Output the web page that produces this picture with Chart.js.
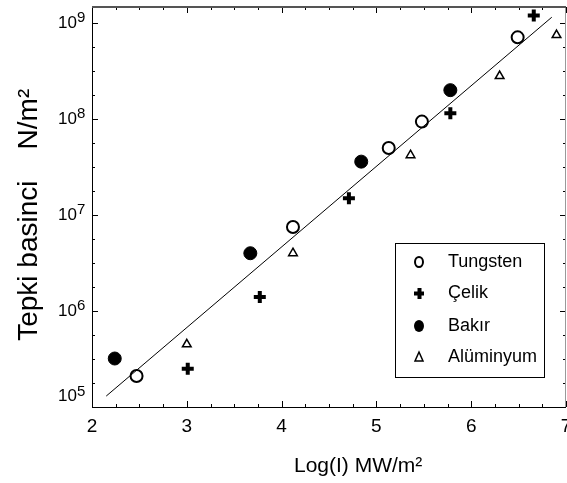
<!DOCTYPE html>
<html lang="tr">
<head>
<meta charset="UTF-8">
<title>Tepki basinci</title>
<script src="https://cdn.jsdelivr.net/npm/chart.js"></script>
<style>
  body { margin: 0; background: #fff; }
</style>
</head>
<body>
<canvas id="chart" width="567" height="483"></canvas>
<script>
// values (x = Log(I), y = pressure in N/m2)
const tungstenX = [2.47, 4.12, 5.13, 5.48, 6.49];
const tungstenY = [2.1e5, 7.5e6, 5.0e7, 9.4e7, 7.1e8];
const celikX = [3.01, 3.77, 4.71, 5.78, 6.66];
const celikY = [2.5e5, 1.4e6, 1.5e7, 1.15e8, 1.2e9];
const bakirX = [2.24, 3.67, 4.84, 5.78];
const bakirY = [3.2e5, 4.0e6, 3.6e7, 2.0e8];
const aluminyumX = [3.00, 4.12, 5.36, 6.30, 6.90];
const aluminyumY = [4.5e5, 4.0e6, 4.2e7, 2.8e8, 7.5e8];
const fitX = [2.15, 6.85];
const fitY = [1.3e5, 1.15e9];

const xTicks = [2, 3, 4, 5, 6, 7];
const yTicks = [1e5, 1e6, 1e7, 1e8, 1e9];
const yExponents = ['5', '6', '7', '8', '9'];
const seriesNames = ['Tungsten', 'Çelik', 'Bakır', 'Alüminyum'];

const pts = (xs, ys) => xs.map((x, i) => ({ x: x, y: ys[i] }));
const FONT = "'Liberation Sans', Arial, sans-serif";

// inward ticks + frame + exponents of the y labels, drawn through the chart's own scales
const frameTicks = {
  id: 'frameTicks',
  afterDraw(chart) {
    const { ctx, chartArea: a, scales: { x, y } } = chart;
    ctx.save();
    ctx.strokeStyle = '#000';
    ctx.lineWidth = 1;
    for (let v = 2; v <= 7.001; v += 0.25) {
      const px = Math.round(x.getPixelForValue(v)) + 0.5;
      const len = Math.abs(v - Math.round(v)) < 0.01 ? 6 : 3;
      ctx.beginPath();
      ctx.moveTo(px, a.bottom); ctx.lineTo(px, a.bottom - len);
      ctx.moveTo(px, a.top); ctx.lineTo(px, a.top + len);
      ctx.stroke();
    }
    for (let k = 0; k <= 20; k++) {
      const v = Math.pow(10, 5 + k / 4);
      if (v > y.max) break;
      const py = Math.round(y.getPixelForValue(v)) + 0.5;
      const len = k % 4 === 0 ? 6 : 3;
      ctx.beginPath();
      ctx.moveTo(a.left, py); ctx.lineTo(a.left + len, py);
      ctx.moveTo(a.right, py); ctx.lineTo(a.right - len, py);
      ctx.stroke();
    }
    // frame
    ctx.beginPath();
    ctx.moveTo(a.left + 0.5, a.top); ctx.lineTo(a.left + 0.5, a.bottom + 0.5);
    ctx.lineTo(a.right, a.bottom + 0.5);
    ctx.stroke();
    ctx.strokeStyle = '#999';
    ctx.beginPath();
    ctx.moveTo(a.right - 0.5, a.top); ctx.lineTo(a.right - 0.5, a.bottom);
    ctx.stroke();
    ctx.strokeStyle = '#555';
    ctx.lineWidth = 2;
    ctx.beginPath();
    ctx.moveTo(a.left, a.top); ctx.lineTo(a.right, a.top);
    ctx.stroke();
    // exponents of the "10" tick labels (the bottom one sits raised, as in the original)
    ctx.fillStyle = '#000';
    ctx.font = '15px ' + FONT;
    ctx.textBaseline = 'alphabetic';
    ctx.textAlign = 'left';
    yTicks.forEach((v, i) => {
      const py = y.getPixelForValue(v) - (i === 0 ? 10 : 0);
      ctx.fillText(yExponents[i], a.left - 15, py - 1);
    });
    ctx.restore();
  }
};

// boxed legend inside the plot, bottom right
const boxLegend = {
  id: 'boxLegend',
  afterDraw(chart) {
    const ctx = chart.ctx;
    const bx = 395, by = 243, bw = 149, bh = 134;
    ctx.save();
    ctx.fillStyle = '#fff';
    ctx.fillRect(bx, by, bw, bh);
    ctx.strokeStyle = '#000';
    ctx.lineWidth = 1;
    ctx.strokeRect(bx + 0.5, by + 0.5, bw, bh);
    const rows = [262, 293, 326, 357];
    ctx.font = '18px ' + FONT;
    ctx.textBaseline = 'middle';
    rows.forEach((ry, i) => {
      const mx = 419;
      ctx.fillStyle = '#000';
      ctx.strokeStyle = '#000';
      if (i === 0) {
        ctx.lineWidth = 2;
        ctx.beginPath(); ctx.ellipse(mx, ry, 4, 5, 0, 0, Math.PI * 2); ctx.stroke();
      } else if (i === 1) {
        ctx.fillRect(mx - 5, ry - 1.5, 10, 4);
        ctx.fillRect(mx - 1.5, ry - 5, 4, 11);
      } else if (i === 2) {
        ctx.beginPath(); ctx.ellipse(mx, ry, 5, 6, 0, 0, Math.PI * 2); ctx.fill();
      } else {
        ctx.lineWidth = 1.5;
        ctx.beginPath();
        ctx.moveTo(mx, ry - 5); ctx.lineTo(mx + 4, ry + 4); ctx.lineTo(mx - 4, ry + 4); ctx.closePath();
        ctx.stroke();
      }
      ctx.fillText(seriesNames[i], 448, ry);
    });
    ctx.restore();
  }
};

new Chart(document.getElementById('chart'), {
  type: 'scatter',
  data: {
    datasets: [
      {
        label: 'fit', data: pts(fitX, fitY), showLine: true,
        borderColor: '#000', borderWidth: 1, pointRadius: 0
      },
      {
        label: seriesNames[0], data: pts(tungstenX, tungstenY),
        pointStyle: 'circle', pointRadius: 6, borderWidth: 2,
        borderColor: '#000', backgroundColor: '#fff'
      },
      {
        label: seriesNames[1], data: pts(celikX, celikY),
        pointStyle: 'cross', pointRadius: 6, borderWidth: 4,
        borderColor: '#000', backgroundColor: '#000'
      },
      {
        label: seriesNames[2], data: pts(bakirX, bakirY),
        pointStyle: 'circle', pointRadius: 6.5, borderWidth: 1,
        borderColor: '#000', backgroundColor: '#000'
      },
      {
        label: seriesNames[3], data: pts(aluminyumX, aluminyumY),
        pointStyle: 'triangle', pointRadius: 5, borderWidth: 1.5,
        borderColor: '#000', backgroundColor: '#fff'
      }
    ]
  },
  options: {
    responsive: false,
    animation: false,
    layout: { autoPadding: false, padding: { top: 7, left: 0, right: 1, bottom: 4 } },
    plugins: { legend: { display: false }, tooltip: { enabled: false } },
    scales: {
      x: {
        type: 'linear', min: 2, max: 7,
        afterBuildTicks: s => { s.ticks = xTicks.map(v => ({ value: v })); },
        afterFit: s => { s.paddingLeft = 0; s.paddingRight = 0; },
        grid: { display: false, drawTicks: false },
        border: { display: false },
        ticks: { color: '#000', padding: 8, font: { family: FONT, size: 19 } },
        title: {
          display: true, text: '          Log(I) MW/m²', color: '#000',
          font: { family: FONT, size: 21 }, padding: { top: 8, bottom: 0 }
        }
      },
      y: {
        type: 'logarithmic', min: 1e5, max: 1.47e9,
        afterBuildTicks: s => { s.ticks = yTicks.map(v => ({ value: v })); },
        afterFit: s => { s.width = 92; s.paddingTop = 0; s.paddingBottom = 0; },
        grid: { display: false, drawTicks: false },
        border: { display: false },
        ticks: {
          color: '#000', padding: 15, font: { family: FONT, size: 17 },
          callback: (v, i) => (i === 0 ? ['10', ''] : '10')
        },
        title: {
          display: true, text: 'Tepki basinci    N/m²  ', color: '#000',
          font: { family: FONT, size: 28 }, padding: { top: 12, bottom: 0 }
        }
      }
    }
  },
  plugins: [frameTicks, boxLegend]
});
</script>
</body>
</html>
